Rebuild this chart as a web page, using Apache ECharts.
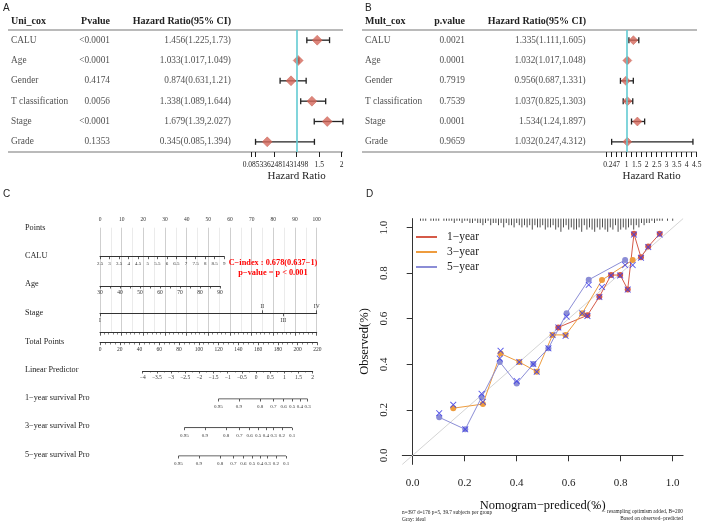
<!DOCTYPE html>
<html>
<head>
<meta charset="utf-8">
<script src="https://cdn.jsdelivr.net/npm/echarts@6/dist/echarts.min.js"></script>
<style>
  html, body { margin: 0; padding: 0; background: #fff; }
  #main { width: 703px; height: 523px; }
</style>
</head>
<body>
<div id="main"></div>
<script>
var SERIF = 'Liberation Serif';
var SANS = 'Liberation Sans';

// A / B: cox regression tables
var coxVars = ['CALU', 'Age', 'Gender', 'T classification', 'Stage', 'Grade'];
var uniP = ['<0.0001', '<0.0001', '0.4174', '0.0056', '<0.0001', '0.1353'];
var uniHR = [1.456, 1.033, 0.874, 1.338, 1.679, 0.345];
var uniLo = [1.225, 1.017, 0.631, 1.089, 1.39, 0.085];
var uniHi = [1.73, 1.049, 1.21, 1.644, 2.027, 1.394];
var uniTicks = [0, 0.0853362481431498, 0.5, 1, 1.5, 2];
var uniTickLabels = [0.0853362481431498, 1.5, 2];

var multP = ['0.0021', '0.0001', '0.7919', '0.7539', '0.0001', '0.9659'];
var multHR = [1.335, 1.032, 0.956, 1.037, 1.534, 1.032];
var multLo = [1.111, 1.017, 0.687, 0.825, 1.24, 0.247];
var multHi = [1.605, 1.048, 1.331, 1.303, 1.897, 4.312];
var multTicks = [0, 0.247, 0.5, 0.75, 1, 1.25, 1.5, 1.75, 2, 2.25, 2.5, 2.75, 3, 3.25, 3.5, 3.75, 4, 4.25, 4.5];
var multTickLabels = [0.247, 1, 1.5, 2, 2.5, 3, 3.5, 4, 4.5];

// C: nomogram
var nomoRows = ['Points', 'CALU', 'Age', 'Stage', 'Total Points', 'Linear Predictor',
  '1\u2212year survival Pro', '3\u2212year survival Pro', '5\u2212year survival Pro'];
var stageLabels = ['I', 'II', 'III', 'IV'];
var stagePoints = [0, 74.9, 84.6, 100];
var survProbs1 = [0.95, 0.9, 0.8, 0.7, 0.6, 0.5, 0.4, 0.3];
var survLp1 = [-1.33, -0.61, 0.14, 0.61, 0.97, 1.27, 1.55, 1.82];
var survProbs3 = [0.95, 0.9, 0.8, 0.7, 0.6, 0.5, 0.4, 0.3, 0.2, 0.1];
var survLp3 = [-2.53, -1.81, -1.06, -0.59, -0.23, 0.07, 0.35, 0.62, 0.91, 1.27];
var survProbs5 = [0.95, 0.9, 0.8, 0.7, 0.6, 0.5, 0.4, 0.3, 0.2, 0.1];
var survLp5 = [-2.74, -2.02, -1.27, -0.80, -0.45, -0.14, 0.14, 0.41, 0.70, 1.06];

// D: calibration
var calTicks = [0, 0.2, 0.4, 0.6, 0.8, 1.0];
var pred1 = [0.56, 0.672, 0.718, 0.763, 0.798, 0.827, 0.851, 0.878, 0.906, 0.95];
var obs1 = [0.562, 0.615, 0.697, 0.792, 0.792, 0.729, 0.973, 0.87, 0.917, 0.973];
var corr1 = [0.562, 0.612, 0.695, 0.79, 0.79, 0.728, 0.97, 0.868, 0.915, 0.97];
var pred3 = [0.156, 0.27, 0.338, 0.41, 0.477, 0.538, 0.588, 0.652, 0.728, 0.846];
var obs3 = [0.207, 0.225, 0.447, 0.41, 0.367, 0.529, 0.529, 0.624, 0.77, 0.858];
var corr3 = [0.222, 0.235, 0.459, 0.41, 0.367, 0.529, 0.525, 0.624, 0.74, 0.836];
var pred5 = [0.102, 0.202, 0.265, 0.335, 0.40, 0.464, 0.522, 0.592, 0.677, 0.817];
var obs5 = [0.167, 0.114, 0.255, 0.41, 0.316, 0.401, 0.47, 0.624, 0.771, 0.858];
var corr5 = [0.185, 0.114, 0.27, 0.425, 0.326, 0.401, 0.47, 0.609, 0.749, 0.836];
var rugStart = 0.03, rugStep = 0.01;
var rugCounts = [1,1,1,0,1,1,1,1,0,1, 1,1,1,2,1,1,2,1,1,2, 2,1,2,2,3,2,1,3,2,2,
  3,2,4,2,3,3,4,2,3,4, 3,4,3,5,3,4,4,3,5,4, 4,3,5,4,6,4,3,5,4,5,
  5,4,6,3,5,4,5,6,4,5, 4,5,6,4,5,3,6,5,4,5, 4,3,5,3,4,2,3,2,2,1, 2,1,1,1,0,1,0,1];

var RED = '#D55A48', ORANGE = '#EE9C3E', BLUE = '#8B8DD6', XBLUE = '#3C3CE6';

function minus(v) { return v < 0 ? '\u2212' + (-v) : String(v); }

function ciRender(params, api) {
  var lo = api.coord([api.value(0), api.value(2)]);
  var hi = api.coord([api.value(1), api.value(2)]);
  var s = { stroke: '#222', lineWidth: 1.3 };
  return { type: 'group', children: [
    { type: 'line', shape: { x1: lo[0], y1: lo[1], x2: hi[0], y2: hi[1] }, style: s },
    { type: 'line', shape: { x1: lo[0], y1: lo[1] - 3, x2: lo[0], y2: lo[1] + 3 }, style: s },
    { type: 'line', shape: { x1: hi[0], y1: hi[1] - 3, x2: hi[0], y2: hi[1] + 3 }, style: s }
  ]};
}

function rugRender(params, api) {
  var p = api.coord([api.value(0), 1.04]);
  return { type: 'line', shape: { x1: p[0], y1: p[1], x2: p[0], y2: p[1] + api.value(1) * 2.2 },
    style: { stroke: '#222', lineWidth: 0.8 } };
}

function txt(x, y, s, size, align, o) {
  o = o || {};
  return { type: 'text', x: x, y: y, silent: true, z: 10, style: {
    text: s, fill: o.color || '#222', fontSize: size, fontFamily: o.family || SERIF,
    fontWeight: o.bold ? 'bold' : 'normal', align: align || 'left', verticalAlign: 'middle',
    textAlign: align || 'left', textVerticalAlign: 'middle' } };
}
function hline(x1, x2, y) {
  return { type: 'line', silent: true, shape: { x1: x1, y1: y, x2: x2, y2: y }, style: { stroke: '#777', lineWidth: 1.2 } };
}

var grids = [], xAxes = [], yAxes = [], series = [];
function grid(left, top, width, height) {
  grids.push({ left: left, top: top, width: width, height: height, containLabel: false, outerBoundsMode: 'none' });
  return grids.length - 1;
}
function hiddenY(gi) {
  yAxes.push({ gridIndex: gi, type: 'value', min: 0, max: 1, show: false });
  return yAxes.length - 1;
}
function catY(gi) {
  yAxes.push({ gridIndex: gi, type: 'category', data: coxVars, inverse: true, show: false });
  return yAxes.length - 1;
}

// ---------- tables + forest plots ----------
function coxPanel(tableLeft, tableWidth, cols, pvals, hr, lo, hi, forestLeft, forestMax, ticks, tickLabels, diamond, richFirst) {
  var gT = grid(tableLeft, 30, tableWidth, 122);
  xAxes.push({ gridIndex: gT, type: 'value', min: 0, max: tableWidth, show: false });
  var xT = xAxes.length - 1, yT = catY(gT);
  var base = { type: 'scatter', xAxisIndex: xT, yAxisIndex: yT, symbolSize: 0.1, silent: true,
    itemStyle: { color: 'transparent' } };
  var lab = { show: true, fontFamily: SERIF, fontSize: 9.3, color: '#222', distance: 0,
    formatter: function (p) { return p.data[2]; } };
  series.push(Object.assign({}, base, { data: coxVars.map(function (n, i) { return [cols[0], i, n]; }),
    label: Object.assign({}, lab, { position: 'right' }) }));
  series.push(Object.assign({}, base, { data: pvals.map(function (n, i) { return [cols[1], i, n]; }),
    label: Object.assign({}, lab, { position: 'left' }) }));
  series.push(Object.assign({}, base, { data: hr.map(function (h, i) { return [cols[2], i, h + '(' + lo[i] + ',' + hi[i] + ')']; }),
    label: Object.assign({}, lab, { position: 'left' }) }));

  var gF = grid(forestLeft, 30, 90, 122);
  xAxes.push({ gridIndex: gF, type: 'value', min: 0, max: forestMax,
    axisLine: { show: false }, splitLine: { show: false },
    axisTick: { show: true, customValues: ticks, length: 5, lineStyle: { color: '#222', width: 1 } },
    axisLabel: { customValues: tickLabels, fontFamily: SERIF, fontSize: 7.5, color: '#222', margin: 9,
      formatter: function (v) { return (richFirst && v === tickLabels[0]) ? '{w|' + v + '}' : String(v); },
      rich: { w: { fontFamily: SERIF, fontSize: 7.5, color: '#222', padding: [0, 0, 0, 40] } } },
    name: 'Hazard Ratio', nameLocation: 'middle', nameGap: 19,
    nameTextStyle: { fontFamily: SERIF, fontSize: 11, color: '#222' } });
  var xF = xAxes.length - 1, yF = catY(gF);
  series.push({ type: 'line', xAxisIndex: xF, yAxisIndex: yF, data: [[1, 0]], showSymbol: false, silent: true, z: 2,
    lineStyle: { width: 0 },
    markLine: { silent: true, symbol: 'none', label: { show: false },
      lineStyle: { color: '#62CBD3', width: 1.6, type: 'solid' }, data: [{ xAxis: 1 }] } });
  series.push({ type: 'custom', xAxisIndex: xF, yAxisIndex: yF, renderItem: ciRender, z: 3, silent: true,
    encode: { x: [0, 1], y: 2 }, data: lo.map(function (l, i) { return [l, hi[i], i]; }) });
  series.push({ type: 'scatter', xAxisIndex: xF, yAxisIndex: yF, symbol: 'diamond', symbolSize: diamond, z: 4, silent: true,
    itemStyle: { color: '#D4665A', borderColor: '#C25546', borderWidth: 0.5 },
    data: hr.map(function (h, i) { return [h, i]; }) });
}
coxPanel(8, 243.7, [3, 102, 223], uniP, uniHR, uniLo, uniHi, 251.7, 2, uniTicks, uniTickLabels, 10, true);
coxPanel(362, 244.7, [3, 103, 223.7], multP, multHR, multLo, multHi, 606.7, 4.5, multTicks, multTickLabels, 9, false);

// ---------- nomogram ----------
var nomoLine = { lineStyle: { color: '#333', width: 1 } };
var nomoLabel = { fontFamily: SERIF, fontSize: 5.5, color: '#333' };
function nomoAxis(gi, o) {
  var ax = Object.assign({ gridIndex: gi, type: 'value', axisLine: Object.assign({ show: true }, nomoLine),
    splitLine: { show: false },
    axisTick: { show: true, length: 2.5, lineStyle: { color: '#333', width: 0.8 } },
    minorTick: { show: false } }, o);
  ax.axisLabel = Object.assign({}, nomoLabel, o.axisLabel || {});
  xAxes.push(ax);
  return xAxes.length - 1;
}
function nomoGrid(left, lineY, width) { var g = grid(left, lineY - 1, width, 1); hiddenY(g); return g; }

// Points + vertical guides
var gP = grid(100, 227.7, 216.7, 105);
var yP = hiddenY(gP);
nomoAxis(gP, { position: 'top', min: 0, max: 100, interval: 10,
  axisTick: { show: true, inside: true, length: 3, lineStyle: { color: '#333', width: 0.8 } },
  minorTick: { show: true, splitNumber: 5, length: 1.8, lineStyle: { color: '#333', width: 0.6 } },
  axisLabel: { margin: 5 } });
xAxes.push({ gridIndex: gP, type: 'value', position: 'bottom', min: 0, max: 100, interval: 5,
  axisLine: { show: false }, axisTick: { show: false }, axisLabel: { show: false },
  splitLine: { show: true, lineStyle: { color: ['#cfcfcf', '#ebebeb'], width: 1 } } });

nomoAxis(nomoGrid(100, 256.7, 124.3), { min: 2.5, max: 9, interval: 0.5, axisLabel: { margin: 4, fontSize: 5 } });
nomoAxis(nomoGrid(100, 286, 120), { min: 30, max: 90, interval: 10,
  minorTick: { show: true, splitNumber: 2, length: 2.5, lineStyle: { color: '#333', width: 0.8 } },
  axisLabel: { margin: 4 } });

var gS = nomoGrid(100, 313.3, 216.7);
nomoAxis(gS, { min: 0, max: 100,
  axisTick: { show: true, length: 3, customValues: [stagePoints[0], stagePoints[2]], lineStyle: { color: '#333', width: 0.8 } },
  axisLabel: { margin: 4.5, customValues: [stagePoints[0], stagePoints[2]],
    formatter: function (v) { return stageLabels[stagePoints.indexOf(v)]; } } });
nomoAxis(gS, { position: 'top', offset: -1, min: 0, max: 100, axisLine: { show: false },
  axisTick: { show: true, length: 3, customValues: [stagePoints[1], stagePoints[3]], lineStyle: { color: '#333', width: 0.8 } },
  axisLabel: { margin: 4, customValues: [stagePoints[1], stagePoints[3]],
    formatter: function (v) { return stageLabels[stagePoints.indexOf(v)]; } } });

nomoAxis(nomoGrid(100, 342.7, 217.3), { min: 0, max: 220, interval: 20,
  minorTick: { show: true, splitNumber: 4, length: 1.8, lineStyle: { color: '#333', width: 0.6 } },
  axisLabel: { margin: 4 } });
nomoAxis(nomoGrid(142.7, 371, 170), { min: -4, max: 2, interval: 0.5,
  minorTick: { show: true, splitNumber: 2, length: 1.5, lineStyle: { color: '#333', width: 0.6 } },
  axisLabel: { margin: 4, formatter: minus } });

function survRow(lineY, lps, probs) {
  var g = nomoGrid(142.7, lineY, 170);
  var xi = nomoAxis(g, { min: -4, max: 2, axisLine: { show: false },
    axisTick: { show: true, length: 2.5, customValues: lps, lineStyle: { color: '#333', width: 0.8 } },
    axisLabel: { margin: 5, fontSize: 5, customValues: lps,
      formatter: function (v) { return String(probs[lps.indexOf(v)]); } } });
  series.push({ type: 'line', xAxisIndex: xi, yAxisIndex: yAxes.length - 1, silent: true, showSymbol: false,
    data: [[lps[0], 0], [lps[lps.length - 1], 0]], lineStyle: { color: '#333', width: 1 } });
}
survRow(399, survLp1, survProbs1);
survRow(427.7, survLp3, survProbs3);
survRow(456, survLp5, survProbs5);

// ---------- calibration ----------
var gD = grid(402.3, 218.6, 280.8, 245.8);
xAxes.push({ gridIndex: gD, type: 'value', min: -0.04, max: 1.04,
  axisLine: { show: true, lineStyle: { color: '#333', width: 1 } }, splitLine: { show: false },
  axisTick: { show: true, customValues: calTicks, length: 6, lineStyle: { color: '#333' } },
  axisLabel: { customValues: calTicks, formatter: function (v) { return v.toFixed(1); },
    fontFamily: SERIF, fontSize: 11, color: '#222', margin: 13 },
  name: 'Nomogram\u2212prediced(%)', nameLocation: 'middle', nameGap: 35,
  nameTextStyle: { fontFamily: SERIF, fontSize: 12.5, color: '#111' } });
var xD = xAxes.length - 1;
yAxes.push({ gridIndex: gD, type: 'value', min: -0.04, max: 1.04,
  axisLine: { show: true, lineStyle: { color: '#333', width: 1 } }, splitLine: { show: false },
  axisTick: { show: true, customValues: calTicks, length: 6, lineStyle: { color: '#333' } },
  axisLabel: { customValues: calTicks, formatter: function (v) { return v.toFixed(1); }, rotate: 90,
    fontFamily: SERIF, fontSize: 11, color: '#222', margin: 13 },
  name: 'Observed(%)', nameLocation: 'middle', nameGap: 31,
  nameTextStyle: { fontFamily: SERIF, fontSize: 12.5, color: '#111' } });
var yD = yAxes.length - 1;

series.push({ type: 'line', xAxisIndex: xD, yAxisIndex: yD, silent: true, showSymbol: false, z: 1,
  data: [[-0.04, -0.04], [1.04, 1.04]], lineStyle: { color: '#d4d4d4', width: 1 } });
series.push({ type: 'custom', xAxisIndex: xD, yAxisIndex: yD, renderItem: rugRender, silent: true,
  data: rugCounts.map(function (c, i) { return [rugStart + i * rugStep, c]; }) });

var XPATH = 'path://M0,1L1,0L5,4L9,0L10,1L6,5L10,9L9,10L5,6L1,10L0,9L4,5Z';
function calSeries(name, color, pred, obs, corr) {
  series.push({ name: name, type: 'line', xAxisIndex: xD, yAxisIndex: yD, z: 3,
    symbol: 'circle', symbolSize: 6, showSymbol: true,
    itemStyle: { color: color }, lineStyle: { color: color, width: 1 },
    data: pred.map(function (p, i) { return [p, obs[i]]; }) });
  series.push({ type: 'scatter', xAxisIndex: xD, yAxisIndex: yD, z: 4, silent: true,
    symbol: XPATH, symbolSize: 6.5, itemStyle: { color: XBLUE, opacity: 0.85 },
    data: pred.map(function (p, i) { return [p, corr[i]]; }) });
}
calSeries('1\u2212year', RED, pred1, obs1, corr1);
calSeries('3\u2212year', ORANGE, pred3, obs3, corr3);
calSeries('5\u2212year', BLUE, pred5, obs5, corr5);

// ---------- text & rules ----------
var nomoY = [228, 256, 284, 313, 342, 370, 398, 426, 455];
var graphics = [
  txt(3, 8, 'A', 10, 'left', { family: SANS }),
  txt(365, 8, 'B', 10, 'left', { family: SANS }),
  txt(3, 194, 'C', 10, 'left', { family: SANS }),
  txt(366, 194, 'D', 10, 'left', { family: SANS }),
  txt(11, 21, 'Uni_cox', 10, 'left', { bold: true }),
  txt(110, 21, 'Pvalue', 10, 'right', { bold: true }),
  txt(231, 21, 'Hazard Ratio(95% CI)', 10, 'right', { bold: true }),
  txt(365, 21, 'Mult_cox', 10, 'left', { bold: true }),
  txt(465, 21, 'p.value', 10, 'right', { bold: true }),
  txt(586, 21, 'Hazard Ratio(95% CI)', 10, 'right', { bold: true }),
  hline(8, 343, 30), hline(8, 343, 152), hline(362, 697, 30), hline(362, 697, 152),
  txt(273, 262.7, 'C\u2212index : 0.678(0.637\u22121)', 8.3, 'center', { bold: true, color: '#FF0000' }),
  txt(273, 272.7, 'p\u2212value = p < 0.001', 8.3, 'center', { bold: true, color: '#FF0000' }),
  txt(402, 512.7, 'n=397 d=176 p=5, 39.7 subjects per group', 5.3),
  txt(402, 519.3, 'Gray: ideal', 5.3),
  txt(593, 507.5, 'X', 6),
  txt(683, 512, '\u2212 resampling optimism added, B=200', 5.3, 'right'),
  txt(683, 519, 'Based on observed\u2212predicted', 5.3, 'right')
];
nomoRows.forEach(function (r, i) { graphics.push(txt(25, nomoY[i], r, 8.2)); });

var chart = echarts.init(document.getElementById('main'), null, { renderer: 'canvas' });
chart.setOption({
  animation: false,
  backgroundColor: '#fff',
  textStyle: { fontFamily: SERIF },
  grid: grids,
  xAxis: xAxes,
  yAxis: yAxes,
  legend: { left: 411, top: 226, orient: 'vertical', itemWidth: 21, itemHeight: 2, itemGap: 3, icon: 'rect',
    data: ['1\u2212year', '3\u2212year', '5\u2212year'],
    textStyle: { fontFamily: SERIF, fontSize: 11.5, color: '#222', padding: [0, 0, 0, 5] } },
  series: series,
  graphic: graphics
});
</script>
</body>
</html>
